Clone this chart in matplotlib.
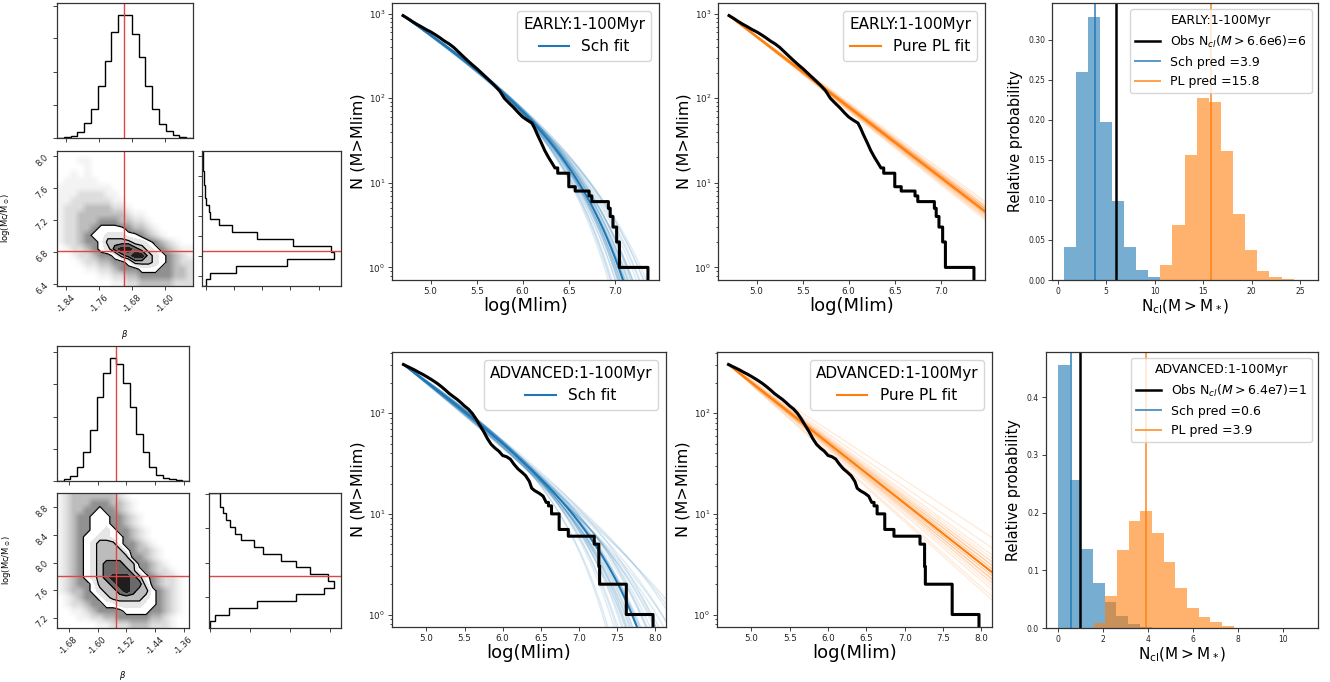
import numpy as np
import matplotlib
matplotlib.use('Agg')
import matplotlib.pyplot as plt
from matplotlib.colors import LinearSegmentedColormap
from matplotlib.ticker import FormatStrFormatter, NullFormatter

W, H = 1330, 682

# ---------------- corner plots: posterior of the Schechter fit ----------------
# marginal histograms use 20 bins over the axis range (arbitrary units)
early_beta_lim = (-1.863, -1.532)
early_mc_lim = (6.38, 8.06)
early_beta_hist = [0, 2, 5, 18, 45, 88, 155, 230, 317, 367, 367, 311, 243, 155, 88, 43, 21, 8, 3, 1]
early_mc_hist = [11, 25, 101, 255, 395, 386, 273, 165, 90, 50, 25, 20, 13, 9, 8, 6, 5, 4, 3, 2]
early_best = (-1.70, 6.81)
# 2D density, rows from high logMc (top) to low, 0 = empty ... 9 = peak
early_dens = [
    "00000000000000000000",
    "00011000000000000000",
    "00001000000000000000",
    "00101000000000000000",
    "01111100000000000000",
    "11111111000000000000",
    "11122221100000000000",
    "11222222110000000000",
    "12223333221000000000",
    "12233333332110000000",
    "12233344433221000000",
    "12233455554332100000",
    "12234556665543210000",
    "12234457777665432100",
    "01223456899876543211",
    "00122344578997654321",
    "00012233445777654322",
    "00001122344455544332",
    "00000011223344444332",
    "00000000112233333222",
]

adv_beta_lim = (-1.713, -1.346)
adv_mc_lim = (7.05, 9.01)
adv_beta_hist = [1, 6, 15, 42, 87, 154, 252, 322, 368, 349, 292, 222, 142, 87, 42, 19, 10, 5, 2, 1]
adv_mc_hist = [4, 17, 60, 144, 260, 344, 375, 357, 304, 260, 217, 162, 134, 97, 77, 62, 50, 42, 32, 32]
adv_best = (-1.55, 7.81)
adv_dens = [
    "12333333321000000000",
    "12333444332100000000",
    "12334454432100000000",
    "12344555443210000000",
    "12344555443210000000",
    "12344556544321000000",
    "12345566554321000000",
    "12345677754432100000",
    "12345677775433210000",
    "12345677777443210000",
    "12345678887744321000",
    "12345678888754322100",
    "12345678999875432210",
    "12344577899886432210",
    "12334567789877543210",
    "01234456777776543210",
    "01223445566665543210",
    "00112344445555443210",
    "00011223344444332100",
    "00000011222333222100",
]

# ---------------- cumulative mass functions ----------------
logm_min = 4.7
early_ntot = 950
# smooth part of the observed N(>M), then the single-cluster steps
early_obs_x = [4.70, 4.75, 4.80, 4.85, 4.90, 4.95, 5.00, 5.05, 5.10, 5.15, 5.20, 5.25, 5.30,
               5.35, 5.40, 5.45, 5.50, 5.55, 5.60, 5.65, 5.70, 5.75, 5.80, 5.85, 5.90, 5.95,
               6.00, 6.05, 6.10, 6.13, 6.16, 6.20, 6.24, 6.28, 6.32, 6.35]
early_obs_n = [950, 880, 810, 750, 700, 650, 610, 565, 520, 475, 440, 400, 355,
               315, 280, 250, 225, 200, 178, 158, 140, 122, 100, 88, 78, 68,
               60, 55, 51, 44, 37, 30, 24, 20, 17, 15]
early_step_x = [6.38, 6.50, 6.57, 6.72, 6.75, 6.93, 6.95, 6.98, 7.02, 7.05, 7.36]
early_step_n = [13, 9, 8, 7, 6, 5, 4, 3, 2, 1, 0.01]

adv_ntot = 305
adv_obs_x = [4.70, 4.75, 4.80, 4.85, 4.90, 4.95, 5.00, 5.05, 5.10, 5.15, 5.20, 5.25, 5.30,
             5.35, 5.40, 5.45, 5.50, 5.55, 5.60, 5.65, 5.70, 5.75, 5.80, 5.85, 5.90, 5.95,
             6.00, 6.05, 6.10, 6.15, 6.20, 6.25, 6.30, 6.35, 6.38, 6.42, 6.48, 6.53, 6.57]
adv_obs_n = [305, 292, 280, 268, 255, 244, 232, 220, 208, 196, 183, 170, 157,
             147, 138, 128, 118, 110, 100, 88, 76, 66, 56, 49, 45, 42,
             38, 37, 35, 31, 28, 26, 24, 21, 18, 17, 16, 15, 13]
adv_step_x = [6.60, 6.64, 6.74, 6.86, 7.20, 7.26, 7.27, 7.62, 7.97]
adv_step_n = [12, 10, 7, 6, 5, 3, 2, 1, 0.01]

# posterior draws used for the fit ensembles
early_sch_beta = [-1.66, -1.68, -1.72, -1.74, -1.69, -1.71, -1.65, -1.73, -1.67, -1.75,
                  -1.70, -1.64, -1.76, -1.69, -1.72, -1.68, -1.71, -1.66, -1.73, -1.70,
                  -1.67, -1.74, -1.69, -1.72, -1.65, -1.71, -1.68, -1.77, -1.63, -1.70,
                  -1.78, -1.75, -1.73, -1.79, -1.62]
early_sch_mc = [6.70, 6.76, 6.90, 6.98, 6.75, 6.88, 6.62, 6.95, 6.74, 7.05,
                6.84, 6.60, 7.10, 6.86, 6.80, 6.72, 6.78, 6.77, 6.86, 6.92,
                6.68, 6.93, 6.82, 6.96, 6.71, 6.75, 6.83, 7.02, 6.58, 6.70,
                7.20, 7.15, 7.08, 7.25, 6.55]
early_pl_beta = [-1.83, -1.82, -1.84, -1.81, -1.85, -1.83, -1.80, -1.86, -1.82, -1.84,
                 -1.83, -1.81, -1.85, -1.82, -1.84, -1.83, -1.79, -1.87, -1.83, -1.82,
                 -1.84, -1.83, -1.81, -1.85, -1.82, -1.84, -1.83, -1.82, -1.84, -1.86]
early_sch_med = (-1.70, 6.81)
early_pl_med = -1.8325

adv_sch_beta = [-1.55, -1.58, -1.52, -1.60, -1.50, -1.56, -1.54, -1.62, -1.48, -1.57,
                -1.53, -1.59, -1.51, -1.55, -1.61, -1.49, -1.56, -1.53, -1.58, -1.54,
                -1.57, -1.52, -1.60, -1.50, -1.55, -1.63, -1.47, -1.56, -1.59, -1.54,
                -1.60, -1.62, -1.58, -1.47, -1.45]
adv_sch_mc = [7.70, 8.05, 7.55, 8.30, 7.40, 7.90, 7.65, 8.55, 7.35, 8.10,
              7.60, 7.95, 7.50, 7.85, 8.40, 7.45, 7.75, 7.80, 8.20, 7.95,
              7.72, 7.68, 8.60, 7.55, 8.00, 8.75, 7.30, 7.62, 7.88, 8.15,
              8.90, 9.20, 8.70, 7.20, 7.15]
adv_pl_beta = [-1.60, -1.58, -1.62, -1.57, -1.63, -1.60, -1.55, -1.65, -1.59, -1.61,
               -1.56, -1.64, -1.60, -1.58, -1.62, -1.53, -1.67, -1.60, -1.59, -1.61,
               -1.57, -1.63, -1.50, -1.68, -1.60, -1.58, -1.62, -1.61, -1.59, -1.60]
adv_sch_med = (-1.55, 7.81)
adv_pl_med = -1.60

# ---------------- predicted number of massive clusters ----------------
early_sch_edges = [0.69, 1.93, 3.16, 4.40, 5.64, 6.87, 8.11, 9.35, 10.58]
early_sch_prob = [0.041, 0.260, 0.328, 0.197, 0.099, 0.041, 0.0125, 0.0033]
early_pl_edges = [10.58, 11.83, 13.08, 14.33, 15.58, 16.83, 18.08, 19.33, 20.58, 21.83, 23.08, 24.33, 25.58]
early_pl_prob = [0.019, 0.069, 0.156, 0.227, 0.222, 0.161, 0.0825, 0.038, 0.0117, 0.0033, 0.0013, 0.0004]
early_lines = {'obs': 6, 'sch': 3.9, 'pl': 15.8}

adv_sch_edges = [0.0, 0.52, 1.04, 1.56, 2.08, 2.60, 3.12, 3.64, 4.16]
adv_sch_prob = [0.455, 0.256, 0.137, 0.078, 0.045, 0.020, 0.0075, 0.002]
adv_pl_edges = [1.58, 2.10, 2.62, 3.14, 3.66, 4.18, 4.70, 5.22, 5.74, 6.26, 6.78, 7.30, 7.82]
adv_pl_prob = [0.0086, 0.055, 0.135, 0.185, 0.203, 0.165, 0.114, 0.069, 0.0345, 0.019, 0.0098, 0.0035]
adv_lines = {'obs': 1, 'sch': 0.6, 'pl': 3.9}

BLUE = '#1f77b4'
ORANGE = '#ff7f0e'
SPINE = '#333333'

fig = plt.figure(figsize=(W / 100, H / 100), dpi=100)


def box(x0, y0, x1, y1):
    return fig.add_axes([x0 / W, 1 - y1 / H, (x1 - x0) / W, (y1 - y0) / H])


def style(ax, size):
    for s in ax.spines.values():
        s.set_color(SPINE)
        s.set_linewidth(0.9)
    ax.tick_params(labelsize=size, length=3, width=0.6, colors='#222222', pad=2)


halo_cmap = LinearSegmentedColormap.from_list(
    'halo', [(0.0, '#ffffff'), (0.22, '#f3f3f3'), (0.44, '#dedede'),
             (0.67, '#bdbdbd'), (0.89, '#929292'), (1.0, '#858585')])


def draw_corner(ax_b, ax_2d, ax_m, blim, mlim, bhist, mhist, dens, best,
                bticks, mticks, bh_ticks, bh_top, mh_ticks, mh_right, mh_yticks, lab_y):
    red = '#e04646'
    bedges = np.linspace(blim[0], blim[1], 21)
    medges = np.linspace(mlim[0], mlim[1], 21)

    ax_b.stairs(bhist, bedges, color='k', lw=1.0)
    ax_b.axvline(best[0], color=red, lw=1.0)
    ax_b.set_xlim(blim)
    ax_b.set_ylim(0, bh_top)
    ax_b.set_xticks(bticks)
    ax_b.set_yticks(bh_ticks)
    ax_b.xaxis.set_major_formatter(NullFormatter())
    ax_b.yaxis.set_major_formatter(NullFormatter())

    D = np.array([[int(c) for c in row] for row in dens], float)[::-1]
    bc = 0.5 * (bedges[1:] + bedges[:-1])
    mc = 0.5 * (medges[1:] + medges[:-1])
    ax_2d.imshow(np.minimum(D, 4.5), cmap=halo_cmap, vmin=0, vmax=4.5, origin='lower',
                 extent=(blim[0], blim[1], mlim[0], mlim[1]), aspect='auto',
                 interpolation='bilinear')
    ax_2d.contourf(bc, mc, D, levels=[4.5, 5.5, 6.5, 7.5, 8.5, 10],
                   colors=['white', '#e6e6e6', '#bcbcbc', '#6a6a6a', '#1e1e1e'])
    ax_2d.contour(bc, mc, D, levels=[4.5, 6.5, 7.5], colors='k', linewidths=0.9)
    ax_2d.axvline(best[0], color=red, lw=1.0)
    ax_2d.axhline(best[1], color=red, lw=1.0)
    ax_2d.set_xlim(blim)
    ax_2d.set_ylim(mlim)
    ax_2d.set_xticks(bticks)
    ax_2d.set_yticks(mticks)
    ax_2d.xaxis.set_major_formatter(FormatStrFormatter('%.2f'))
    ax_2d.yaxis.set_major_formatter(FormatStrFormatter('%.1f'))
    for t in ax_2d.get_xticklabels() + ax_2d.get_yticklabels():
        t.set_rotation(45)
    ax_2d.set_xlabel(r'$\beta$', fontsize=6)
    ax_2d.set_ylabel(r'log(Mc/M$_\odot$)', fontsize=6)
    ax_2d.xaxis.set_label_coords(0.5, lab_y)
    ax_2d.yaxis.set_label_coords(-0.33, 0.5)

    ax_m.stairs(mhist, medges, orientation='horizontal', color='k', lw=1.0)
    ax_m.axhline(best[1], color=red, lw=1.0)
    ax_m.set_ylim(mlim)
    ax_m.set_xlim(0, mh_right)
    ax_m.set_xticks(mh_ticks)
    ax_m.set_yticks(mh_yticks)
    ax_m.xaxis.set_major_formatter(NullFormatter())
    ax_m.yaxis.set_major_formatter(NullFormatter())
    for a in (ax_b, ax_2d, ax_m):
        style(a, 6)


def sch_curve(x, beta, logmc, ntot):
    grid = np.linspace(logm_min, 10.0, 2121)
    m = 10 ** grid
    f = m ** beta * np.exp(-m / 10 ** logmc) * m * np.log(10)
    seg = 0.5 * (f[1:] + f[:-1]) * (grid[1] - grid[0])
    tail = np.concatenate([np.cumsum(seg[::-1])[::-1], [0.0]])
    return np.interp(x, grid, ntot * tail / tail[0])


def pl_curve(x, beta, ntot):
    return ntot * 10 ** ((beta + 1) * (x - logm_min))


def obs_path(bx, bn, sx, sn):
    # smooth part as a line, the last clusters as a staircase
    xs = list(bx) + [sx[0]]
    ns = list(bn) + [bn[-1]]
    for i in range(len(sx)):
        xs += [sx[i], sx[i + 1] if i + 1 < len(sx) else sx[i]]
        ns += [sn[i], sn[i]]
    return xs, ns


def draw_fit(ax, kind, obs, ntot, med, s_beta, s_mc, color, label, title, xlim):
    x = np.linspace(logm_min, xlim[1], 400)
    for i in range(len(s_beta)):
        if kind == 'sch':
            y = sch_curve(x, s_beta[i], s_mc[i], ntot)
        else:
            y = pl_curve(x, s_beta[i], ntot)
        ax.plot(x, y, color=color, alpha=0.15, lw=1.0)
    if kind == 'sch':
        y = sch_curve(x, med[0], med[1], ntot)
    else:
        y = pl_curve(x, med, ntot)
    ax.plot(x, y, color=color, lw=1.5, label=label)
    ox, on = obs_path(*obs)
    ax.plot(ox, on, color='k', lw=2.2)
    ax.set_yscale('log')
    ax.set_xlim(xlim)
    top = np.log10(ntot)
    ax.set_ylim(10 ** (-0.05 * top), 10 ** (1.05 * top))
    ax.set_xticks(np.arange(5.0, xlim[1] + 0.01, 0.5))
    ax.xaxis.set_major_formatter(FormatStrFormatter('%.1f'))
    ax.set_xlabel('log(Mlim)', fontsize=13, labelpad=1)
    ax.set_ylabel('N (M>Mlim)', fontsize=11.5, labelpad=2)
    style(ax, 6.3)
    ax.tick_params(which='minor', length=1.8, width=0.5)
    ax.legend(title=title, loc='upper right', fontsize=11, title_fontsize=11)


def draw_pred(ax, s_edges, s_prob, p_edges, p_prob, lines, obs_label, title, xlim, ylim,
              xticks, yticks, yfmt):
    ax.bar(s_edges[:-1], s_prob, width=np.diff(s_edges), align='edge', color=BLUE,
           alpha=0.6, linewidth=0)
    ax.bar(p_edges[:-1], p_prob, width=np.diff(p_edges), align='edge', color=ORANGE,
           alpha=0.6, linewidth=0)
    ax.axvline(lines['obs'], color='k', lw=1.8, label=obs_label)
    ax.axvline(lines['sch'], color=BLUE, lw=1.4, alpha=0.75, label='Sch pred =%s' % lines['sch'])
    ax.axvline(lines['pl'], color=ORANGE, lw=1.4, alpha=0.75, label='PL pred =%s' % lines['pl'])
    ax.set_xlim(xlim)
    ax.set_ylim(ylim)
    ax.set_xticks(xticks)
    ax.set_yticks(yticks)
    ax.yaxis.set_major_formatter(FormatStrFormatter(yfmt))
    ax.set_xlabel(r'N$_{\rm cl}$(M$>$M$_*$)', fontsize=11, labelpad=1)
    ax.set_ylabel('Relative probability', fontsize=10.5)
    style(ax, 5.5)
    ax.legend(title=title, loc='upper right', fontsize=9, title_fontsize=9)


early_obs = (early_obs_x, early_obs_n, early_step_x, early_step_n)
adv_obs = (adv_obs_x, adv_obs_n, adv_step_x, adv_step_n)

# ---- top row: EARLY ----
draw_corner(box(57, 3, 193, 138), box(57, 151, 193, 286), box(202, 151, 341, 286),
            early_beta_lim, early_mc_lim, early_beta_hist, early_mc_hist, early_dens, early_best,
            [-1.84, -1.76, -1.68, -1.60], [6.4, 6.8, 7.2, 7.6, 8.0],
            [0, 98, 198, 298, 395], 403, [11, 96, 180, 265, 351], 417,
            [6.5, 6.75, 7.0, 7.25, 7.5, 7.75, 8.0], -0.31)

draw_fit(box(392, 3, 659, 280), 'sch', early_obs, early_ntot, early_sch_med,
         early_sch_beta, early_sch_mc, BLUE, 'Sch fit', 'EARLY:1-100Myr', (4.58, 7.48))
draw_fit(box(718, 3, 985, 280), 'pl', early_obs, early_ntot, early_pl_med,
         early_pl_beta, None, ORANGE, 'Pure PL fit', 'EARLY:1-100Myr', (4.58, 7.48))
draw_pred(box(1052, 3, 1318, 280), early_sch_edges, early_sch_prob, early_pl_edges, early_pl_prob,
          early_lines, r'Obs N$_{cl}$($M>$6.6e6)=6', 'EARLY:1-100Myr', (-0.58, 26.83),
          (0, 0.3458), [0, 5, 10, 15, 20, 25], np.arange(0, 0.31, 0.05), '%.2f')

# ---- bottom row: ADVANCED ----
draw_corner(box(57, 346, 189, 481), box(57, 493, 189, 628), box(209, 493, 341, 628),
            adv_beta_lim, adv_mc_lim, adv_beta_hist, adv_mc_hist, adv_dens, adv_best,
            [-1.68, -1.60, -1.52, -1.44, -1.36], [7.2, 7.6, 8.0, 8.4, 8.8],
            [0, 97, 192, 290, 387], 404, [2, 122, 244, 362], 396,
            [7.5, 8.0, 8.5, 9.0], -0.30)

draw_fit(box(392, 352, 666, 627), 'sch', adv_obs, adv_ntot, adv_sch_med,
         adv_sch_beta, adv_sch_mc, BLUE, 'Sch fit', 'ADVANCED:1-100Myr', (4.55, 8.14))
draw_fit(box(717, 352, 992, 627), 'pl', adv_obs, adv_ntot, adv_pl_med,
         adv_pl_beta, None, ORANGE, 'Pure PL fit', 'ADVANCED:1-100Myr', (4.55, 8.14))
draw_pred(box(1046, 352, 1318, 628), adv_sch_edges, adv_sch_prob, adv_pl_edges, adv_pl_prob,
          adv_lines, r'Obs N$_{cl}$($M>$6.4e7)=1', 'ADVANCED:1-100Myr', (-0.533, 11.56),
          (0, 0.478), [0, 2, 4, 6, 8, 10], np.arange(0, 0.41, 0.1), '%.1f')

fig.savefig('out.png', dpi=100)
